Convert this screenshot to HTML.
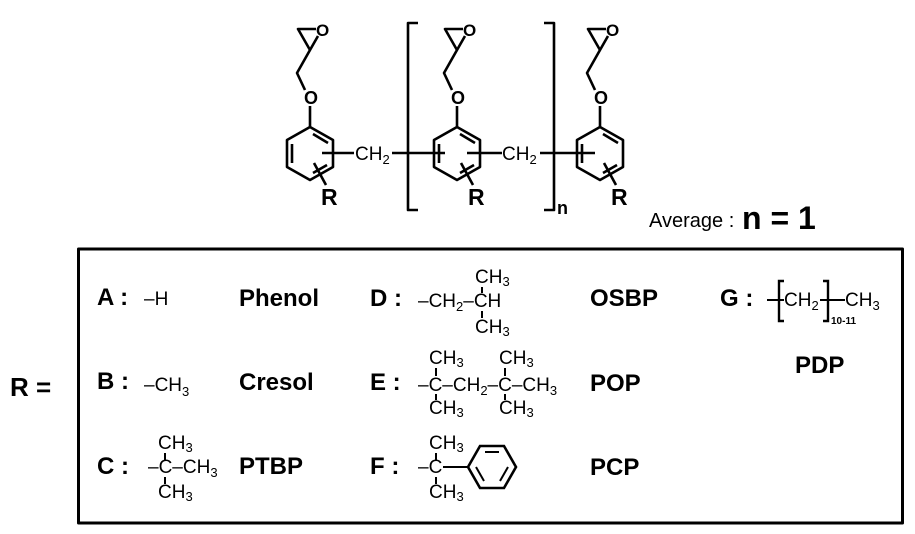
<!DOCTYPE html>
<html><head><meta charset="utf-8"><style>
html,body{margin:0;padding:0;background:#fff;}
svg{display:block;}
text{font-family:"Liberation Sans",Arial,sans-serif;fill:#000;}
.b{font-weight:bold;}
</style></head><body>
<svg width="915" height="534" viewBox="0 0 915 534" xmlns="http://www.w3.org/2000/svg">
<g stroke="#000" stroke-width="2.6" fill="none" stroke-linejoin="round">
<polygon points="310,127 333,140 333,167 310,180 287,167 287,140"/>
<line x1="313" y1="134" x2="328" y2="143"/><line x1="292" y1="144" x2="292" y2="163"/><line x1="313" y1="173" x2="327" y2="165"/>
<line x1="310" y1="127" x2="310" y2="106"/>
<polyline points="305,90 297,73 310,50"/>
<polyline points="318,36 310,50 298,29 316,29"/>
<polygon points="457,127 480,140 480,167 457,180 434,167 434,140"/>
<line x1="460" y1="134" x2="475" y2="143"/><line x1="439" y1="144" x2="439" y2="163"/><line x1="460" y1="173" x2="474" y2="165"/>
<line x1="457" y1="127" x2="457" y2="106"/>
<polyline points="452,90 444,73 457,50"/>
<polyline points="465,36 457,50 445,29 463,29"/>
<polygon points="600,127 623,140 623,167 600,180 577,167 577,140"/>
<line x1="603" y1="134" x2="618" y2="143"/><line x1="582" y1="144" x2="582" y2="163"/><line x1="603" y1="173" x2="617" y2="165"/>
<line x1="600" y1="127" x2="600" y2="106"/>
<polyline points="595,90 587,73 600,50"/>
<polyline points="608,36 600,50 588,29 606,29"/>
<line x1="322" y1="153" x2="354" y2="153"/>
<line x1="392" y1="153" x2="445" y2="153"/>
<line x1="467" y1="153" x2="502" y2="153"/>
<line x1="540" y1="153" x2="595" y2="153"/>
<line x1="314" y1="163" x2="326" y2="185"/>
<line x1="461" y1="163" x2="473" y2="185"/>
<line x1="604" y1="163" x2="616" y2="185"/>
<polyline points="418,23 408,23 408,210 418,210"/>
<polyline points="544,23 554,23 554,210 544,210"/>
<rect x="78.5" y="249" width="824" height="274" stroke-width="3"/>
</g>
<g class="b" font-size="18">
<text x="304" y="104">O</text><text x="451" y="104">O</text><text x="594" y="104">O</text>
<text x="316" y="36" font-size="17">O</text><text x="463" y="36" font-size="17">O</text><text x="606" y="36" font-size="17">O</text>
<text x="321" y="205" font-size="23">R</text><text x="468" y="205" font-size="23">R</text><text x="611" y="205" font-size="23">R</text>
<text x="557" y="214">n</text>
</g>
<text x="355" y="160" font-size="19">CH<tspan font-size="13" dy="4">2</tspan></text>
<text x="502" y="160" font-size="19">CH<tspan font-size="13" dy="4">2</tspan></text>
<text x="649" y="227" font-size="20">Average :</text>
<text x="742" y="229" font-size="32" class="b">n = 1</text>
<text x="10" y="396" font-size="26" class="b">R =</text>
<g class="b" font-size="24">
<text x="97" y="305">A :</text><text x="97" y="389">B :</text><text x="97" y="474">C :</text>
<text x="239" y="306">Phenol</text><text x="239" y="390">Cresol</text><text x="239" y="474">PTBP</text>
<text x="370" y="306">D :</text><text x="370" y="390">E :</text><text x="370" y="474">F :</text>
<text x="590" y="306">OSBP</text><text x="590" y="391">POP</text><text x="590" y="475">PCP</text>
<text x="720" y="306">G :</text><text x="795" y="373">PDP</text>
</g>
<g font-size="19">
<text x="144" y="305">–H</text>
<text x="144" y="391">–CH<tspan font-size="13" dy="5">3</tspan></text>
<text x="148" y="473">–C–CH<tspan font-size="13" dy="4">3</tspan></text>
<text x="158" y="449">CH<tspan font-size="13" dy="3">3</tspan></text>
<text x="158" y="498">CH<tspan font-size="13" dy="3">3</tspan></text>
<text x="418" y="307">–CH<tspan font-size="13" dy="4">2</tspan><tspan dy="-4">–CH</tspan></text>
<text x="475" y="283">CH<tspan font-size="13" dy="3">3</tspan></text>
<text x="475" y="333">CH<tspan font-size="13" dy="3">3</tspan></text>
<text x="418" y="391">–C–CH<tspan font-size="13" dy="4">2</tspan><tspan dy="-4">–C–CH</tspan><tspan font-size="13" dy="4">3</tspan></text>
<text x="429" y="364">CH<tspan font-size="13" dy="3">3</tspan></text>
<text x="429" y="414">CH<tspan font-size="13" dy="3">3</tspan></text>
<text x="499" y="364">CH<tspan font-size="13" dy="3">3</tspan></text>
<text x="499" y="414">CH<tspan font-size="13" dy="3">3</tspan></text>
<text x="418" y="473">–C</text>
<text x="429" y="449">CH<tspan font-size="13" dy="3">3</tspan></text>
<text x="429" y="498">CH<tspan font-size="13" dy="3">3</tspan></text>
<text x="784" y="306">CH<tspan font-size="13" dy="4">2</tspan></text>
<text x="845" y="306">CH<tspan font-size="13" dy="4">3</tspan></text>
<text x="831" y="324" font-size="10" class="b">10-11</text>
</g>
<g stroke="#000" stroke-width="2" fill="none">
<line x1="165" y1="453" x2="165" y2="460"/><line x1="165" y1="477" x2="165" y2="484"/>
<line x1="482" y1="287" x2="482" y2="293"/><line x1="482" y1="311" x2="482" y2="318"/>
<line x1="436" y1="368" x2="436" y2="376"/><line x1="436" y1="394" x2="436" y2="400"/>
<line x1="505" y1="368" x2="505" y2="376"/><line x1="505" y1="394" x2="505" y2="400"/>
<line x1="436" y1="453" x2="436" y2="460"/><line x1="436" y1="477" x2="436" y2="484"/>
<line x1="443" y1="467" x2="468" y2="467"/>
<polygon points="468,467 480,446 504,446 516,467 504,488 480,488" stroke-width="2.6"/>
<line x1="485" y1="452" x2="499" y2="452"/><line x1="508" y1="467" x2="500" y2="481"/><line x1="476" y1="467" x2="484" y2="481"/>
<polyline points="784,281 779,281 779,321 784,321" stroke-width="2.4"/>
<polyline points="823,281 828,281 828,321 823,321" stroke-width="2.4"/>
<line x1="767" y1="300" x2="784" y2="300"/><line x1="820" y1="300" x2="845" y2="300"/>
</g>
</svg>
</body></html>
